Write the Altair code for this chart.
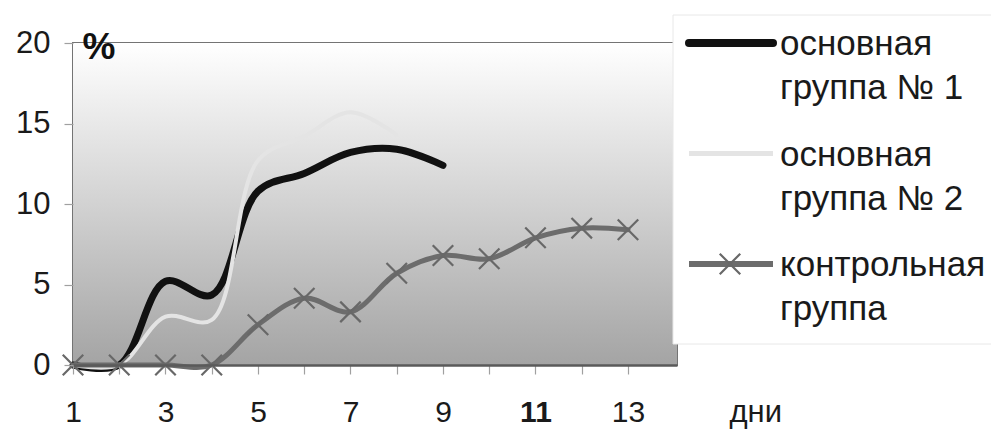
import altair as alt
import pandas as pd

days = list(range(1, 14))
group1 = [0, 0, 5.2, 4.35, 10.8, 11.9, 13.2, 13.4, 12.4, None, None, None, None]
group2 = [0, 0, 3.0, 2.8, 12.7, 14.2, 15.7, 14.3, None, None, None, None, None]
control = [0, 0, 0, 0, 2.5, 4.15, 3.3, 5.7, 6.8, 6.6, 7.9, 8.5, 8.4]

series_names = ["основная группа № 1", "основная группа № 2", "контрольная группа"]
legend_lines = [["основная", "группа № 1"], ["основная", "группа № 2"], ["контрольная", "группа"]]
y_ticks = [0, 5, 10, 15, 20]
x_ticks = days
X_MAX = 14.06

FONT = "Liberation Sans"
W, H = 604, 322

rows = []
for name, vals in zip(series_names, [group1, group2, control]):
    for d, v in zip(days, vals):
        if v is not None:
            rows.append({"day": d, "value": v, "series": name})
df = pd.DataFrame(rows)

xscale = alt.Scale(domain=[1, X_MAX], nice=False, zero=False)
yscale = alt.Scale(domain=[0, 20], nice=False)

xaxis = alt.Axis(
    values=x_ticks,
    labelExpr="datum.value % 2 == 1 ? datum.label : ''",
    labelFont=FONT, labelFontSize=30, labelColor="#1a1a1a",
    labelFontWeight={"condition": {"test": "datum.value == 11", "value": "bold"}, "value": "normal"},
    labelPadding=23, tickSize=9, tickColor="#a0a0a0", tickWidth=1.2,
    domainColor="#5a5a5a", domainWidth=2.5, grid=False,
    title="дни", titleFont=FONT, titleFontSize=31, titleFontWeight="normal",
    titleColor="#1a1a1a", titleX=656, titleY=56, titleAlign="left",
    titleBaseline="alphabetic", labelFlush=False, zindex=1,
)
yaxis = alt.Axis(
    values=y_ticks, labelFont=FONT, labelFontSize=31, labelColor="#1a1a1a",
    labelPadding=14, tickSize=9, tickColor="#a0a0a0", tickWidth=1.2,
    domain=False, grid=False,
    title="%", titleFont=FONT, titleFontSize=37, titleFontWeight="bold",
    titleColor="#111111", titleAngle=0, titleX=9, titleY=15,
    titleAlign="left", titleBaseline="alphabetic", zindex=1,
)

base = alt.Chart(df)

bg = alt.Chart(pd.DataFrame({"a": [0]})).mark_rect(
    fill=alt.Gradient(
        gradient="linear",
        stops=[alt.GradientStop(color="#ffffff", offset=0),
               alt.GradientStop(color="#d2d2d2", offset=0.5),
               alt.GradientStop(color="#a4a4a4", offset=1)],
        x1=0, x2=0, y1=0, y2=1,
    )
).encode(
    x=alt.X(datum=1, scale=xscale, axis=xaxis),
    x2=alt.X2(datum=X_MAX),
    y=alt.Y(datum=0, scale=yscale, axis=yaxis),
    y2=alt.Y2(datum=20),
)

styles = [("#111111", 7), ("#e4e4e4", 4), ("#6c6c6c", 5)]
layers = [bg]
for name, (col, sw) in zip(series_names, styles):
    layers.append(
        base.transform_filter(alt.datum.series == name)
        .mark_line(interpolate="catmull-rom", color=col, strokeWidth=sw,
                   strokeCap="round", strokeJoin="round")
        .encode(x=alt.X("day:Q", scale=xscale), y=alt.Y("value:Q", scale=yscale))
    )

XPATH = "M-1,-1L1,1M-1,1L1,-1"
layers.append(
    base.transform_filter(alt.datum.series == series_names[2])
    .mark_point(shape=XPATH, filled=False, size=420, strokeWidth=2.2, color="#686868", opacity=1)
    .encode(x=alt.X("day:Q", scale=xscale), y=alt.Y("value:Q", scale=yscale))
)

# legend box
layers.append(
    alt.Chart(pd.DataFrame({"a": [0]})).mark_rect(fill="white", stroke="#e8e8e8", strokeWidth=1).encode(
        x=alt.value(600), x2=alt.value(960), y=alt.value(-28), y2=alt.value(301)
    )
)
for i, (lines, (col, sw)) in enumerate(zip(legend_lines, styles)):
    ly = i * 110.5
    layers.append(
        alt.Chart(pd.DataFrame({"a": [0]})).mark_rule(
            color=col, strokeWidth=sw + 1,
            strokeCap="round" if i == 0 else "butt",
        ).encode(x=alt.value(616), x2=alt.value(700), y=alt.value(ly))
    )
    layers.append(
        alt.Chart(pd.DataFrame({"a": [0]})).mark_text(
            font=FONT, fontSize=35, color="#1a1a1a", align="left",
            baseline="alphabetic", lineHeight=44,
        ).encode(x=alt.value(707), y=alt.value(ly + 12), text=alt.value(lines))
    )
layers.append(
    alt.Chart(pd.DataFrame({"a": [0]})).mark_point(
        shape=XPATH, filled=False, size=420, strokeWidth=2.2, color="#686868", opacity=1
    ).encode(x=alt.value(657), y=alt.value(221))
)

chart = alt.layer(*layers).properties(
    width=W, height=H,
    autosize=alt.AutoSizeParams(type="none"),
    padding={"left": 65, "top": 35, "right": 314, "bottom": 66},
    background="white",
).configure_view(stroke="#747474", strokeWidth=2)

chart.save("out.html", embed_options={"renderer": "svg", "actions": False})
